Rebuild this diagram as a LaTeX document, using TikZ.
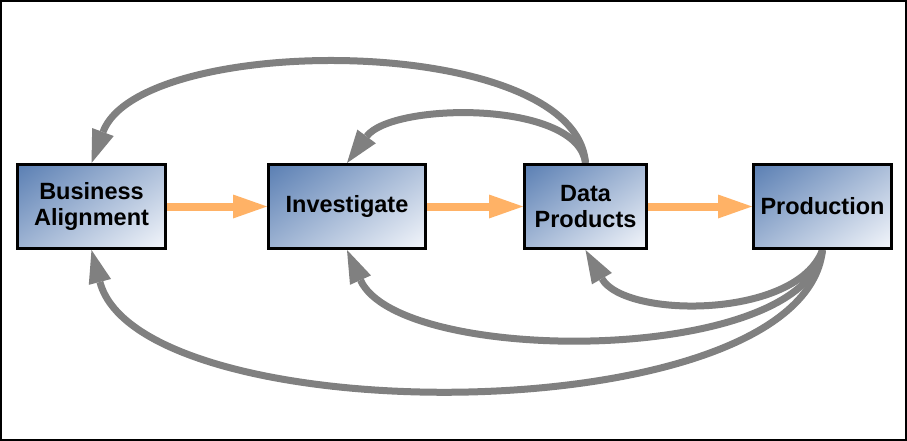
\documentclass[tikz,border=0pt]{standalone}
\usepackage{fontspec}
\setmainfont{Liberation Sans}
\usetikzlibrary{arrows.meta,backgrounds}
\definecolor{boxdark}{RGB}{88,125,178}
\definecolor{boxlight}{RGB}{246,248,252}
\definecolor{flowor}{RGB}{255,178,102}
\definecolor{loopgray}{RGB}{128,128,128}
\pgfdeclarehorizontalshading{shBA}{260pt}{color(0pt)=(boxdark); color(158pt)=(boxlight)}
\pgfdeclarehorizontalshading{shINV}{260pt}{color(0pt)=(boxdark); color(163pt)=(boxlight)}
\pgfdeclarehorizontalshading{shDP}{260pt}{color(0pt)=(boxdark); color(143pt)=(boxlight)}
\pgfdeclarehorizontalshading{shPR}{260pt}{color(0pt)=(boxdark); color(152pt)=(boxlight)}
\tikzset{
  stage/.style={draw=black, line width=3pt, inner sep=0pt,
    path picture={\node[rotate=-55, inner sep=0pt, outer sep=0pt]
      at (path picture bounding box.center) {\pgfuseshading{#1}};},
    minimum height=84pt, align=center,
    font=\bfseries\fontsize{23.5}{26}\selectfont},
  flow/.style={draw=flowor, line width=8pt,
    -{Triangle[length=34pt,width=24pt,line width=0pt]}},
  loop/.style={draw=loopgray, line width=7pt,
    -{Triangle[length=33pt,width=23pt,line width=0pt]}},
}
\begin{document}
\begin{tikzpicture}[x=1pt,y=-1pt]
\useasboundingbox (0,0) rectangle (907,441);
\draw[line width=2pt, black] (1,1) rectangle (906,440);
\node[stage=shBA, minimum width=148pt] (ba) at (91.5,206.5) {Business\\Alignment};
\node[stage=shINV, minimum width=157pt] (inv) at (347,206.5) {Investigate};
\node[stage=shDP, minimum width=122pt] (dp) at (585.5,206.5) {Data\\Products};
\node[stage=shPR, minimum width=138pt] (prod) at (822.5,206.5) {Production};
\begin{scope}[on background layer]
\draw[flow] (ba.east) -- (inv.west);
\draw[flow] (inv.east) -- (dp.west);
\draw[flow] (dp.east) -- (prod.west);
\draw[loop] (dp.north) .. controls (575,32) and (140,32) .. (ba.north);
\draw[loop] (dp.north) .. controls (578,100) and (392,102) .. (inv.north);
\draw[loop] (prod.south) .. controls (797,319) and (625,319) .. (dp.south);
\draw[loop] (prod.south) .. controls (803,366) and (399,366) .. (inv.south);
\draw[loop] (prod.south) .. controls (803,434) and (140,434) .. (ba.south);
\end{scope}
\end{tikzpicture}
\end{document}
